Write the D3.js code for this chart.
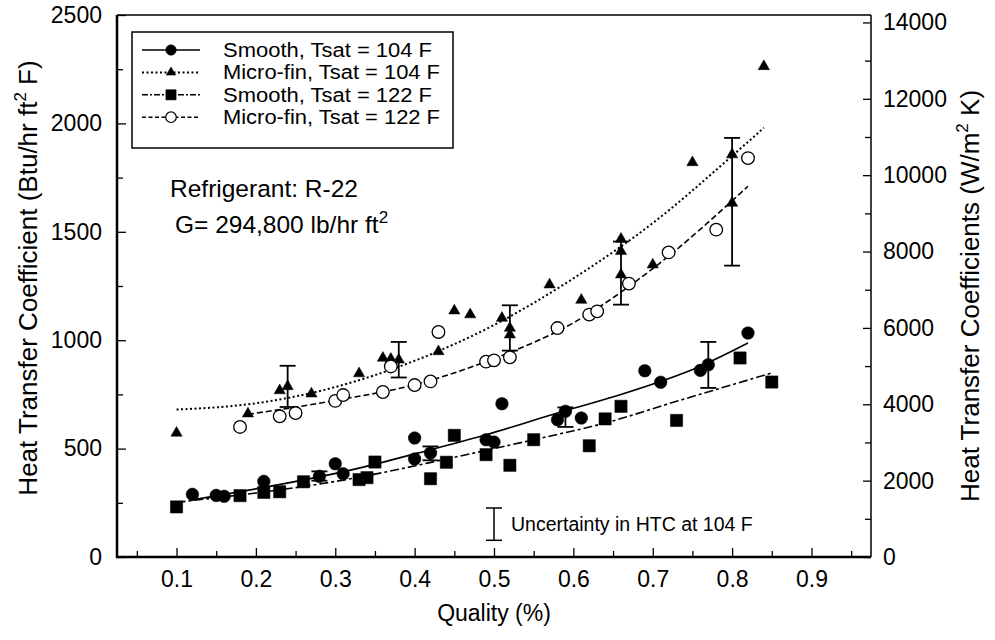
<!DOCTYPE html>
<html>
<head>
<meta charset="utf-8">
<script src="https://cdn.jsdelivr.net/npm/d3@7"></script>
<style>
  body { margin: 0; background: #fff; }
  text { font-family: Arial, "Liberation Sans", sans-serif; fill: #000; }
</style>
</head>
<body>
<script>
const width = 995
const height = 640
const margin = { top: 15, right: 124, bottom: 83, left: 117 }

// Smooth tube, Tsat = 104 F (filled circles)
const smooth104X = [0.12, 0.15, 0.16, 0.21, 0.28, 0.30, 0.31, 0.40, 0.40, 0.42, 0.49, 0.50, 0.51, 0.58, 0.59, 0.61, 0.69, 0.71, 0.76, 0.77, 0.82]
const smooth104Y = [289, 284, 280, 349, 372, 430, 384, 549, 452, 480, 541, 530, 707, 633, 672, 641, 859, 806, 861, 887, 1033]

// Micro-fin tube, Tsat = 104 F (triangles)
const micro104X = [0.10, 0.19, 0.23, 0.24, 0.27, 0.33, 0.36, 0.37, 0.38, 0.43, 0.45, 0.47, 0.51, 0.52, 0.52, 0.57, 0.61, 0.66, 0.66, 0.66, 0.70, 0.75, 0.80, 0.80, 0.84]
const micro104Y = [572, 661, 768, 787, 753, 846, 918, 913, 910, 948, 1136, 1118, 1102, 1056, 1025, 1256, 1185, 1467, 1410, 1302, 1348, 1820, 1856, 1633, 2263]

// Smooth tube, Tsat = 122 F (squares)
const smooth122X = [0.10, 0.18, 0.21, 0.23, 0.26, 0.33, 0.34, 0.35, 0.42, 0.44, 0.45, 0.49, 0.52, 0.55, 0.62, 0.64, 0.66, 0.73, 0.81, 0.85]
const smooth122Y = [231, 283, 298, 301, 347, 357, 366, 438, 361, 437, 561, 472, 423, 541, 513, 637, 695, 630, 918, 807]

// Micro-fin tube, Tsat = 122 F (open circles)
const micro122X = [0.18, 0.23, 0.25, 0.30, 0.31, 0.36, 0.37, 0.40, 0.42, 0.43, 0.49, 0.50, 0.52, 0.58, 0.62, 0.63, 0.67, 0.72, 0.78, 0.82]
const micro122Y = [600, 649, 664, 720, 747, 761, 879, 793, 810, 1038, 901, 907, 921, 1056, 1118, 1133, 1261, 1405, 1510, 1840]

// fitted curves, points
const fitSmooth104X = [0.12, 0.33, 0.42, 0.49, 0.58, 0.645, 0.76, 0.82]
const fitSmooth104Y = [264, 410, 495, 564, 664, 733, 880, 987]
const fitMicro104X = [0.10, 0.20, 0.30, 0.40, 0.50, 0.60, 0.70, 0.80, 0.84]
const fitMicro104Y = [680, 709, 784, 905, 1070, 1285, 1540, 1850, 1980]
const fitSmooth122X = [0.10, 0.33, 0.44, 0.55, 0.64, 0.73, 0.85]
const fitSmooth122Y = [252, 368, 452, 541, 618, 718, 849]
const fitMicro122X = [0.19, 0.30, 0.40, 0.50, 0.60, 0.70, 0.82]
const fitMicro122Y = [658, 722, 795, 915, 1080, 1330, 1710]

// uncertainty bars at 104 F
const errX = [0.24, 0.28, 0.38, 0.42, 0.52, 0.59, 0.66, 0.77, 0.80]
const errLow = [692, 352, 828, 446, 952, 600, 1164, 780, 1344]
const errHigh = [882, 395, 992, 510, 1161, 690, 1455, 992, 1933]

const xTicks = [0.1, 0.2, 0.3, 0.4, 0.5, 0.6, 0.7, 0.8, 0.9]
const yLeftTicks = [0, 500, 1000, 1500, 2000, 2500]
const yRightTicks = [0, 2000, 4000, 6000, 8000, 10000, 12000, 14000]
const SI = 5.678 // Btu/hr ft2 F -> W/m2 K

const legendNames = ['Smooth, Tsat = 104 F', 'Micro-fin, Tsat = 104 F', 'Smooth, Tsat = 122 F', 'Micro-fin, Tsat = 122 F']

const iw = width - margin.left - margin.right
const ih = height - margin.top - margin.bottom

const x = d3.scaleLinear().domain([0.025, 0.975]).range([0, iw])
const y = d3.scaleLinear().domain([0, 2500]).range([ih, 0])
const y2 = d3.scaleLinear().domain([0, 2500 * SI]).range([ih, 0])

const svg = d3.select('body').append('svg')
    .attr('width', width)
    .attr('height', height)

const g = svg.append('g')
    .attr('transform', `translate(${margin.left},${margin.top})`)

const zip = (xs, ys) => xs.map((v, i) => [v, ys[i]])

// styles of the four series
const series = [
    { pts: zip(smooth104X, smooth104Y), fit: zip(fitSmooth104X, fitSmooth104Y), dash: null, sym: 'circle', fill: '#000' },
    { pts: zip(micro104X, micro104Y), fit: zip(fitMicro104X, fitMicro104Y), dash: '2,2.5', sym: 'triangle', fill: '#000' },
    { pts: zip(smooth122X, smooth122Y), fit: zip(fitSmooth122X, fitSmooth122Y), dash: '9,3,3,3', sym: 'square', fill: '#000' },
    { pts: zip(micro122X, micro122Y), fit: zip(fitMicro122X, fitMicro122Y), dash: '6,3', sym: 'circle', fill: '#fff' },
]

const symSize = { circle: 125, triangle: 55, square: 150 }
const symType = { circle: d3.symbolCircle, triangle: d3.symbolTriangle, square: d3.symbolSquare }

const line = d3.line()
    .x(d => x(d[0]))
    .y(d => y(d[1]))
    .curve(d3.curveMonotoneX)

// fit curves
g.selectAll('path.fit')
    .data(series)
    .enter()
    .append('path')
    .attr('class', 'fit')
    .attr('d', d => line(d.fit))
    .attr('fill', 'none')
    .attr('stroke', '#000')
    .attr('stroke-width', d => d.sym === 'triangle' ? 2 : 1.6)
    .attr('stroke-dasharray', d => d.dash)

// error bars
const CAP = 8
const eb = g.selectAll('g.err')
    .data(errX.map((v, i) => ({ x: v, lo: errLow[i], hi: errHigh[i] })))
    .enter()
    .append('g')
    .attr('stroke', '#000')
    .attr('stroke-width', 1.8)
eb.append('line')
    .attr('x1', d => x(d.x)).attr('x2', d => x(d.x))
    .attr('y1', d => y(d.lo)).attr('y2', d => y(d.hi))
eb.append('line')
    .attr('x1', d => x(d.x) - CAP).attr('x2', d => x(d.x) + CAP)
    .attr('y1', d => y(d.lo)).attr('y2', d => y(d.lo))
eb.append('line')
    .attr('x1', d => x(d.x) - CAP).attr('x2', d => x(d.x) + CAP)
    .attr('y1', d => y(d.hi)).attr('y2', d => y(d.hi))

// markers
series.forEach(s => {
    g.append('g').selectAll('path')
        .data(s.pts)
        .enter()
        .append('path')
        .attr('transform', d => `translate(${x(d[0])},${y(d[1])})`)
        .attr('d', d3.symbol().type(symType[s.sym]).size(symSize[s.sym]))
        .attr('fill', s.fill)
        .attr('stroke', '#000')
        .attr('stroke-width', s.fill === '#fff' ? 1.3 : 0.5)
})

// axes
const tickFont = 23
const xAxis = d3.axisBottom(x).tickValues(xTicks).tickSize(-9).tickPadding(14).tickFormat(d3.format('.1f'))
const xMinor = d3.axisBottom(x).tickValues(d3.range(0.05, 0.97, 0.1)).tickSize(-6).tickFormat('')
const yAxis = d3.axisLeft(y).tickValues(yLeftTicks).tickSize(-9).tickPadding(15).tickFormat(d3.format('d'))
const yMinor = d3.axisLeft(y).tickValues([250, 750, 1250, 1750, 2250]).tickSize(-6).tickFormat('')
const yAxisR = d3.axisRight(y2).tickValues(yRightTicks).tickSize(-8).tickPadding(12).tickFormat(d3.format('d'))
const yMinorR = d3.axisRight(y2).tickValues(d3.range(1000, 14000, 2000)).tickSize(-6).tickFormat('')

const styleAxis = sel => {
    sel.select('.domain').remove()
    sel.selectAll('line').attr('stroke', '#000').attr('stroke-width', 1.3)
    sel.selectAll('text').style('font-size', tickFont + 'px').attr('fill', '#000')
}

g.append('g').attr('transform', `translate(0,${ih})`).call(xAxis).call(styleAxis)
g.append('g').attr('transform', `translate(0,${ih})`).call(xMinor).call(styleAxis)
g.append('g').call(yAxis).call(styleAxis)
g.append('g').call(yMinor).call(styleAxis)
g.append('g').attr('transform', `translate(${iw},0)`).call(yAxisR).call(styleAxis)
g.append('g').attr('transform', `translate(${iw},0)`).call(yMinorR).call(styleAxis)

// frame
g.append('line').attr('x1', 0).attr('x2', iw).attr('y1', 0).attr('y2', 0).attr('stroke', '#000').attr('stroke-width', 1.5)
g.append('line').attr('x1', iw).attr('x2', iw).attr('y1', 0).attr('y2', ih).attr('stroke', '#000').attr('stroke-width', 1.5)
g.append('line').attr('x1', 0).attr('x2', 0).attr('y1', 0).attr('y2', ih + 1).attr('stroke', '#000').attr('stroke-width', 2.5)
g.append('line').attr('x1', -1).attr('x2', iw).attr('y1', ih).attr('y2', ih).attr('stroke', '#000').attr('stroke-width', 2.5)

// axis titles
svg.append('text')
    .attr('x', margin.left + iw / 2)
    .attr('y', 621)
    .attr('text-anchor', 'middle')
    .style('font-size', '23px')
    .text('Quality (%)')

const yl = svg.append('text')
    .attr('transform', `translate(37,${margin.top + ih / 2 - 8}) rotate(-90)`)
    .attr('text-anchor', 'middle')
    .style('font-size', '26px')
yl.append('tspan').text('Heat Transfer Coefficient (Btu/hr ft')
yl.append('tspan').attr('dy', -11).style('font-size', '17px').text('2')
yl.append('tspan').attr('dy', 11).text(' F)')

const yr = svg.append('text')
    .attr('transform', `translate(979,${margin.top + ih / 2 + 10}) rotate(-90)`)
    .attr('text-anchor', 'middle')
    .style('font-size', '26px')
yr.append('tspan').text('Heat Transfer Coefficients (W/m')
yr.append('tspan').attr('dy', -11).style('font-size', '17px').text('2')
yr.append('tspan').attr('dy', 11).text(' K)')

// annotations
g.append('text')
    .attr('x', 170 - margin.left)
    .attr('y', 197 - margin.top)
    .style('font-size', '24.5px')
    .text('Refrigerant: R-22')
const gt = g.append('text')
    .attr('x', 175 - margin.left)
    .attr('y', 233 - margin.top)
    .style('font-size', '24.5px')
gt.append('tspan').text('G= 294,800 lb/hr ft')
gt.append('tspan').attr('dy', -10).style('font-size', '17px').text('2')

// uncertainty key
const ux = x(0.5)
g.append('line').attr('x1', ux).attr('x2', ux).attr('y1', y(77)).attr('y2', y(226)).attr('stroke', '#000').attr('stroke-width', 1.5)
g.append('line').attr('x1', ux - CAP).attr('x2', ux + CAP).attr('y1', y(77)).attr('y2', y(77)).attr('stroke', '#000').attr('stroke-width', 1.5)
g.append('line').attr('x1', ux - CAP).attr('x2', ux + CAP).attr('y1', y(226)).attr('y2', y(226)).attr('stroke', '#000').attr('stroke-width', 1.5)
g.append('text')
    .attr('x', ux + 17)
    .attr('y', y(150) + 7)
    .style('font-size', '19.5px')
    .text('Uncertainty in HTC at 104 F')

// legend
const legend = g.append('g').attr('transform', `translate(${132 - margin.left},${32 - margin.top})`)
legend.append('rect')
    .attr('width', 321)
    .attr('height', 116)
    .attr('fill', '#fff')
    .attr('stroke', '#000')
    .attr('stroke-width', 1.5)

const ROW = 22.4
const row = legend.selectAll('g.row')
    .data(series)
    .enter()
    .append('g')
    .attr('transform', (d, i) => `translate(0,${18 + i * ROW})`)
row.append('line')
    .attr('x1', 10).attr('x2', 68)
    .attr('stroke', '#000')
    .attr('stroke-width', d => d.sym === 'triangle' ? 2 : 1.6)
    .attr('stroke-dasharray', d => d.sym === 'triangle' ? '2,2.5' : d.sym === 'square' ? '6,2,2,2' : d.fill === '#fff' ? '4,2.5' : null)
row.append('path')
    .attr('transform', 'translate(39,0)')
    .attr('d', d => d3.symbol().type(symType[d.sym]).size(symSize[d.sym] * 0.7)())
    .attr('fill', d => d.fill)
    .attr('stroke', '#000')
    .attr('stroke-width', d => d.fill === '#fff' ? 1.2 : 0.5)
row.append('text')
    .attr('x', 91)
    .attr('y', 7)
    .style('font-size', '19.5px')
    .attr('textLength', (d, i) => legendNames[i].startsWith('Smooth') ? 209 : 217)
    .attr('lengthAdjust', 'spacingAndGlyphs')
    .text((d, i) => legendNames[i])
</script>
</body>
</html>
